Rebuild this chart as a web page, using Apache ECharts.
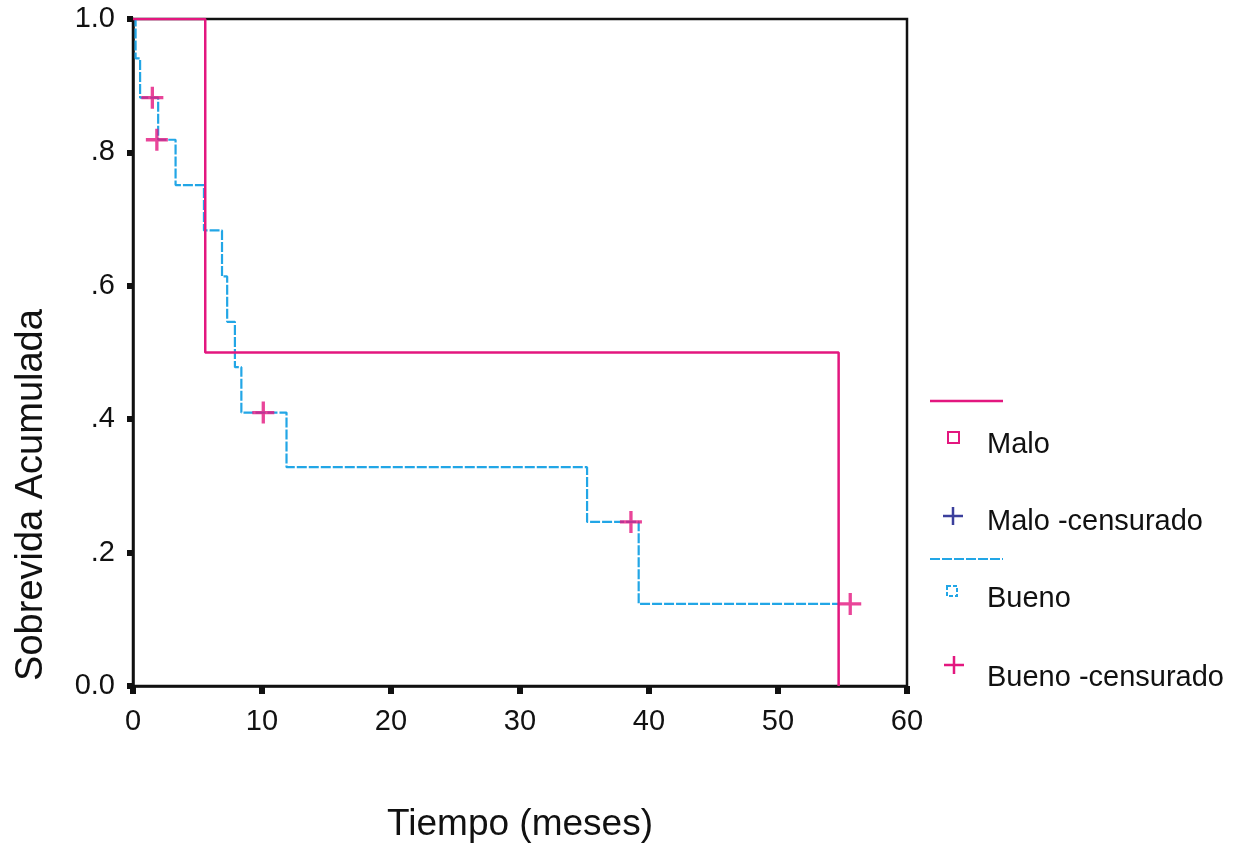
<!DOCTYPE html>
<html>
<head>
<meta charset="utf-8">
<script src="https://cdn.jsdelivr.net/npm/echarts@6/dist/echarts.min.js"></script>
<style>
  html, body { margin: 0; padding: 0; background: #fff; }
  #chart { width: 1243px; height: 848px; }
</style>
</head>
<body>
<div id="chart"></div>
<script>
// Kaplan-Meier: survival by group, time in months
const maloTime = [0, 5.6, 54.7]
const maloSurv = [1, 0.5, 0]

const buenoTime = [0, 0.2, 0.55, 1.95, 3.3, 5.5, 6.9, 7.3, 7.9, 8.4, 11.9, 35.2, 39.2, 54.7]
const buenoSurv = [1, 0.941, 0.882, 0.819, 0.751, 0.683, 0.614, 0.546, 0.478, 0.41, 0.328, 0.246, 0.123, 0.123]

// censored cases of group "Bueno"
const censTime = [1.5, 1.85, 10.1, 38.6, 55.6]
const censSurv = [0.882, 0.819, 0.41, 0.246, 0.123]

const xTicks = [0, 10, 20, 30, 40, 50, 60]
const yTickLabels = ['0.0', '.2', '.4', '.6', '.8', '1.0']

const MAGENTA = '#e3177f'
const CYAN = '#22a6e6'
const NAVY = '#3b3f9c'
const FONT = 'Liberation Sans, Arial, sans-serif'
const PLUS = 'path://M8.5,0h3v8.5h8.5v3h-8.5v8.5h-3v-8.5h-8.5v-3h8.5z'

const zip = (xs, ys) => xs.map((x, i) => [x, ys[i]])

const chart = echarts.init(document.getElementById('chart'))

const legendText = (text, y) => ({
  type: 'text', left: 987, top: y - 16,
  style: { text, font: '29px ' + FONT, fill: '#111' }
})
const plusMark = (cx, cy, color) => ({
  type: 'group', x: cx, y: cy,
  children: [
    { type: 'line', shape: { x1: -10, y1: 0, x2: 10, y2: 0 }, style: { stroke: color, lineWidth: 2.5 } },
    { type: 'line', shape: { x1: 0, y1: -9, x2: 0, y2: 9 }, style: { stroke: color, lineWidth: 2.5 } }
  ]
})

const option = {
  animation: false,
  backgroundColor: '#fff',
  grid: {
    left: 133, top: 19, right: 336, bottom: 160,
    show: true, borderColor: '#111', borderWidth: 2.5, backgroundColor: 'transparent'
  },
  xAxis: {
    type: 'value',
    min: 0, max: 60, interval: 10,
    name: 'Tiempo (meses)',
    nameLocation: 'middle',
    nameGap: 120,
    nameTextStyle: { fontFamily: FONT, fontSize: 37, color: '#111' },
    axisLine: { show: true, lineStyle: { color: '#111', width: 2.5 } },
    axisTick: { show: true, length: 8, lineStyle: { color: '#111', width: 6 } },
    axisLabel: {
      margin: 21, fontFamily: FONT, fontSize: 29, color: '#111',
      formatter: (v) => String(xTicks[xTicks.indexOf(v)])
    },
    splitLine: { show: false }
  },
  yAxis: {
    type: 'value',
    min: 0, max: 1, interval: 0.2,
    axisLine: { show: true, lineStyle: { color: '#111', width: 2.5 } },
    axisTick: { show: true, length: 6, lineStyle: { color: '#111', width: 6 } },
    axisLabel: {
      margin: 18, fontFamily: FONT, fontSize: 29, color: '#111',
      formatter: (v, i) => yTickLabels[i]
    },
    splitLine: { show: false }
  },
  series: [
    {
      name: 'Bueno', type: 'line', step: 'end', symbol: 'none', z: 2,
      data: zip(buenoTime, buenoSurv),
      lineStyle: { color: CYAN, width: 2.2, type: [10, 2] }
    },
    {
      name: 'Malo', type: 'line', step: 'end', symbol: 'none', z: 3,
      data: zip(maloTime, maloSurv),
      lineStyle: { color: MAGENTA, width: 2.5 }
    },
    {
      name: 'Bueno -censurado', type: 'scatter', z: 4,
      symbol: PLUS, symbolSize: 22,
      itemStyle: { color: MAGENTA },
      data: zip(censTime, censSurv)
    }
  ],
  graphic: [
    {
      type: 'text', x: 32, y: 495, rotation: Math.PI / 2,
      style: {
        text: 'Sobrevida Acumulada', font: '38px ' + FONT, fill: '#111',
        align: 'center', verticalAlign: 'middle'
      }
    },
    // legend
    { type: 'line', shape: { x1: 930, y1: 401, x2: 1003, y2: 401 }, style: { stroke: MAGENTA, lineWidth: 2.5 } },
    { type: 'rect', shape: { x: 948, y: 432, width: 11, height: 11 }, style: { fill: 'none', stroke: MAGENTA, lineWidth: 2 } },
    legendText('Malo', 446),
    plusMark(953, 516, NAVY),
    legendText('Malo -censurado', 523),
    { type: 'line', shape: { x1: 930, y1: 559, x2: 1003, y2: 559 }, style: { stroke: CYAN, lineWidth: 2, lineDash: [10, 2] } },
    { type: 'rect', shape: { x: 947, y: 586, width: 10, height: 10 }, style: { fill: 'none', stroke: CYAN, lineWidth: 2, lineDash: [4, 2] } },
    legendText('Bueno', 600),
    plusMark(954, 665, MAGENTA),
    legendText('Bueno -censurado', 679)
  ]
}

chart.setOption(option)
</script>
</body>
</html>
